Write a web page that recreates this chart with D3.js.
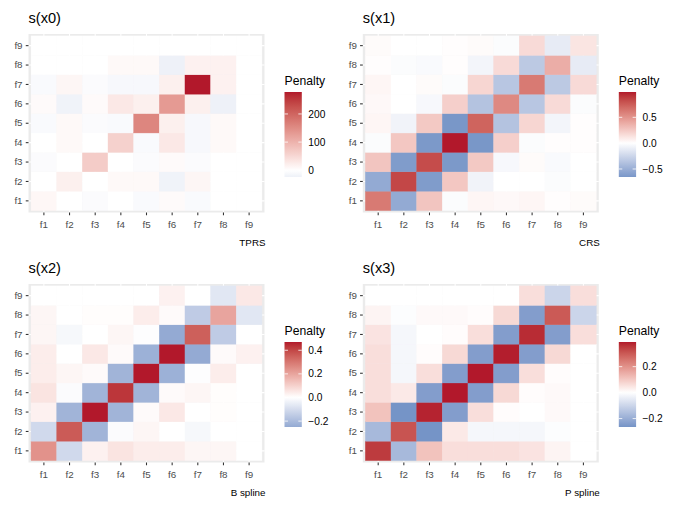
<!DOCTYPE html>
<html>
<head>
<meta charset="utf-8">
<script src="https://cdn.jsdelivr.net/npm/d3@7"></script>
<style>
  html, body { margin: 0; padding: 0; background: #ffffff; }
  svg { display: block; font-family: "Liberation Sans", Arial, Helvetica, sans-serif; }
</style>
</head>
<body>
<svg id="chart" width="680" height="510"></svg>
<script>
// ---------------- data ----------------
const categories = ["f1", "f2", "f3", "f4", "f5", "f6", "f7", "f8", "f9"];

const panelTitles = ["s(x0)", "s(x1)", "s(x2)", "s(x3)"];
const panelCaptions = ["TPRS", "CRS", "B spline", "P spline"];

// penalty matrices: rows = y level (f1..f9), columns = x level (f1..f9)
const penaltyX0 = [
  [10, 0, -6, 0, -8, 6, -8, 0, 0],
  [0, 20, 0, 8, 8, -20, 12, 0, 0],
  [-6, 0, 66, 0, -6, 6, -6, 0, 0],
  [0, 8, 0, 60, -8, 30, -11, 8, 0],
  [-8, 8, -6, -8, 158, 20, -11, 8, 0],
  [6, -20, 6, 30, 20, 132, 20, -24, 0],
  [-8, 12, -6, -11, -11, 20, 278, 18, 0],
  [0, 0, 0, 8, 8, -24, 18, 18, 0],
  [0, 0, 0, 0, 0, 0, 0, 0, 0]
];
const penaltyX1 = [
  [0.62, -0.53, 0.27, -0.02, 0.04, 0.03, 0.04, 0.01, 0.02],
  [-0.53, 0.84, -0.62, 0.26, -0.07, 0.0, 0.0, -0.02, 0.0],
  [0.27, -0.62, 0.82, -0.64, 0.25, -0.04, 0.02, -0.03, 0.0],
  [-0.02, 0.26, -0.64, 0.99, -0.655, 0.22, -0.02, 0.01, 0.01],
  [0.04, -0.07, 0.25, -0.655, 0.72, -0.37, 0.19, -0.06, 0.01],
  [0.03, 0.0, -0.04, 0.22, -0.37, 0.55, -0.35, 0.17, -0.02],
  [0.04, 0.0, 0.02, -0.02, 0.19, -0.35, 0.62, -0.33, 0.17],
  [0.01, -0.02, -0.03, 0.01, -0.06, 0.17, -0.33, 0.38, -0.12],
  [0.02, 0.0, 0.0, 0.01, 0.02, -0.02, 0.17, -0.12, 0.12]
];
const penaltyX2 = [
  [0.24, -0.11, 0.03, 0.06, 0.04, 0.04, 0.02, 0.02, 0.0],
  [-0.11, 0.36, -0.22, -0.01, 0.02, 0.0, -0.02, 0.0, 0.0],
  [0.03, -0.22, 0.47, -0.22, 0.01, 0.05, 0.0, 0.005, 0.0],
  [0.06, -0.01, -0.22, 0.43, -0.22, 0.01, 0.02, 0.005, 0.0],
  [0.04, 0.02, 0.01, -0.22, 0.47, -0.23, -0.005, 0.04, 0.0],
  [0.04, 0.0, 0.05, 0.01, -0.23, 0.47, -0.25, 0.01, 0.03],
  [0.02, -0.02, 0.0, 0.02, -0.005, -0.25, 0.35, -0.15, 0.0],
  [0.02, 0.0, 0.005, 0.005, 0.04, 0.01, -0.15, 0.2, -0.07],
  [0.0, 0.0, 0.0, 0.0, 0.0, 0.03, 0.0, -0.07, 0.05]
];
const penaltyX3 = [
  [0.35, -0.17, 0.11, 0.06, 0.06, 0.06, 0.05, 0.02, 0.0],
  [-0.17, 0.31, -0.265, 0.04, -0.02, -0.02, -0.02, -0.005, 0.0],
  [0.11, -0.265, 0.38, -0.24, 0.06, 0.005, 0.0, 0.01, 0.0],
  [0.06, 0.04, -0.24, 0.39, -0.24, 0.07, 0.005, 0.01, 0.0],
  [0.06, -0.02, 0.06, -0.24, 0.39, -0.24, 0.06, 0.005, 0.0],
  [0.06, -0.02, 0.005, 0.07, -0.24, 0.385, -0.24, 0.07, 0.0],
  [0.05, -0.02, 0.0, 0.005, 0.06, -0.24, 0.37, -0.24, 0.06],
  [0.02, -0.005, 0.01, 0.01, 0.005, 0.07, -0.24, 0.3, -0.1],
  [0.0, 0.0, 0.0, 0.0, 0.0, 0.0, 0.06, -0.1, 0.06]
];

const legendBreaksX0 = [0, 100, 200];
const legendBreaksX1 = [-0.5, 0.0, 0.5];
const legendBreaksX2 = [-0.2, 0.0, 0.2, 0.4];
const legendBreaksX3 = [-0.2, 0.0, 0.2];
const legendFormats = [",.0f", ".1f", ".1f", ".1f"];

const matrices = [penaltyX0, penaltyX1, penaltyX2, penaltyX3];
const breaksList = [legendBreaksX0, legendBreaksX1, legendBreaksX2, legendBreaksX3];

// ---------------- layout ----------------
const svg = d3.select("#chart");
const panelW = 236, panelH = 178.5;
const origins = [
  {x: 28.5, y: 34},
  {x: 362.8, y: 34},
  {x: 28.5, y: 284},
  {x: 362.8, y: 284}
];
const LOW = "#2166AC", MID = "#FFFFFF", HIGH = "#B2182B";

matrices.forEach((mat, p) => {
  const o = origins[p];
  const g = svg.append("g").attr("transform", `translate(${o.x},${o.y})`);

  const cells = [];
  mat.forEach((row, i) => row.forEach((v, j) => cells.push({row: categories[i], col: categories[j], value: v})));
  const vmin = d3.min(cells, d => d.value), vmax = d3.max(cells, d => d.value);
  const maxAbs = Math.max(Math.abs(vmin), Math.abs(vmax));

  const lowInt = d3.interpolateLab(MID, LOW), highInt = d3.interpolateLab(MID, HIGH);
  const fill = v => v >= 0 ? highInt(v / maxAbs) : lowInt(-v / maxAbs);

  const x = d3.scaleBand().domain(categories).range([0, panelW]).paddingInner(0).paddingOuter(0.1);
  const y = d3.scaleBand().domain(categories).range([panelH, 0]).paddingInner(0).paddingOuter(0.1);

  // panel background + grid
  g.append("rect").attr("width", panelW).attr("height", panelH).attr("fill", "#EBEBEB");
  g.selectAll("line.gx").data(categories).join("line")
    .attr("x1", d => x(d) + x.bandwidth() / 2).attr("x2", d => x(d) + x.bandwidth() / 2)
    .attr("y1", 0).attr("y2", panelH).attr("stroke", "#fff").attr("stroke-width", 1.07);
  g.selectAll("line.gy").data(categories).join("line")
    .attr("y1", d => y(d) + y.bandwidth() / 2).attr("y2", d => y(d) + y.bandwidth() / 2)
    .attr("x1", 0).attr("x2", panelW).attr("stroke", "#fff").attr("stroke-width", 1.07);

  // tiles
  g.selectAll("rect.tile").data(cells).join("rect")
    .attr("class", "tile")
    .attr("x", d => x(d.col)).attr("y", d => y(d.row))
    .attr("width", x.bandwidth()).attr("height", y.bandwidth())
    .attr("fill", d => fill(d.value))
    .attr("stroke", d => fill(d.value)).attr("stroke-width", 0.4);

  // axes
  const ax = g.append("g").attr("transform", `translate(0,${panelH})`)
    .call(d3.axisBottom(x).tickSize(2.75).tickPadding(5.3));
  const ay = g.append("g").call(d3.axisLeft(y).tickSize(2.75).tickPadding(3.2));
  [ax, ay].forEach(a => {
    a.select(".domain").remove();
    a.selectAll(".tick line").attr("stroke", "#333333").attr("stroke-width", 1.07);
    a.selectAll(".tick text").attr("fill", "#4D4D4D").style("font-size", "9.8px")
      .style("font-family", '"Liberation Sans", Arial, sans-serif');
  });

  // title
  g.append("text").attr("x", 0).attr("y", -11).text(panelTitles[p])
    .style("font-size", "14.6px").attr("fill", "#000");
  // caption
  g.append("text").attr("x", panelW + 1).attr("y", panelH + 33.5).attr("text-anchor", "end")
    .text(panelCaptions[p]).style("font-size", "9.8px").attr("fill", "#000");

  // legend
  const lx = panelW + 20, barTop = 58, barH = 85, barW = 17.3;
  const lg = g.append("g").attr("transform", `translate(${lx},0)`);
  lg.append("text").attr("x", 0).attr("y", barTop - 7.5).text("Penalty")
    .style("font-size", "12.2px").attr("fill", "#000");
  const gradId = "grad" + p;
  const grad = svg.append("defs").append("linearGradient").attr("id", gradId)
    .attr("x1", 0).attr("y1", 1).attr("x2", 0).attr("y2", 0);
  const nStops = 60;
  d3.range(nStops + 1).forEach(k => {
    const v = vmin + (vmax - vmin) * k / nStops;
    grad.append("stop").attr("offset", k / nStops).attr("stop-color", fill(v));
  });
  lg.append("rect").attr("x", 0).attr("y", barTop).attr("width", barW).attr("height", barH)
    .attr("fill", `url(#${gradId})`);
  const ls = d3.scaleLinear().domain([vmin, vmax]).range([barTop + barH, barTop]);
  const fmt = d3.format(legendFormats[p]);
  breaksList[p].forEach(b => {
    const yy = ls(b);
    lg.append("line").attr("x1", 0).attr("x2", barW / 5).attr("y1", yy).attr("y2", yy)
      .attr("stroke", "#fff").attr("stroke-width", 0.8);
    lg.append("line").attr("x1", barW - barW / 5).attr("x2", barW).attr("y1", yy).attr("y2", yy)
      .attr("stroke", "#fff").attr("stroke-width", 0.8);
    lg.append("text").attr("x", barW + 6.5).attr("y", yy).attr("dy", "0.35em")
      .text(fmt(b)).style("font-size", "10.2px").attr("fill", "#000");
  });
});
</script>
</body>
</html>
